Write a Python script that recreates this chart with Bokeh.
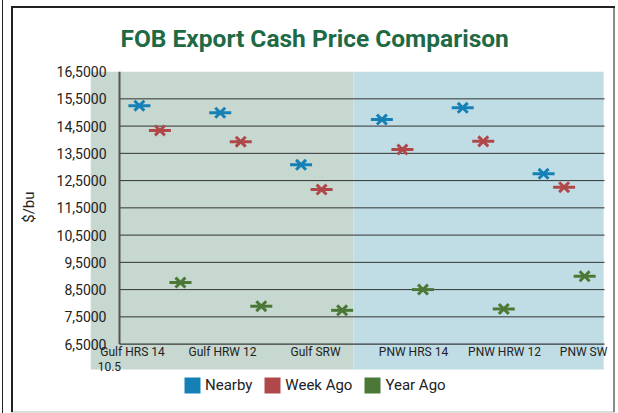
import numpy as np
from bokeh.plotting import figure
from bokeh.models import (FixedTicker, Legend, LegendItem, Range1d, ColumnDataSource)
from bokeh.core.properties import value
from bokeh.embed import file_html
from bokeh.resources import INLINE

# ---------------- data ----------------
categories = ["Gulf HRS 14", "Gulf HRW 12", "Gulf SRW", "PNW HRS 14", "PNW HRW 12", "PNW SW"]
nearby = [15.25, 14.99, 13.08, 14.74, 15.17, 12.75]
week_ago = [14.34, 13.93, 12.17, 13.64, 13.94, 12.26]
year_ago = [8.76, 7.89, 7.74, 8.50, 7.79, 8.99]
series_names = ["Nearby", "Week Ago", "Year Ago"]
y_ticks = [6.5, 7.5, 8.5, 9.5, 10.5, 11.5, 12.5, 13.5, 14.5, 15.5, 16.5]
y_tick_labels = ["6,5000", "7,5000", "8,5000", "9,5000", "10,5000", "11,5000",
                 "12,5000", "13,5000", "14,5000", "15,5000", "16,5000"]
extra_label = "10.5"
y_title = "$/bu"

# ---------------- styles ----------------
colors = ["#1580b5", "#b0484a", "#4b7836"]
offsets = [-0.254, 0.0, 0.254]
label_shift = [-0.339, -0.226, -0.075, 0.137, 0.263, 0.241]
FONT = "Roboto"
Y_MIN, Y_MAX = y_ticks[0], y_ticks[-1]
N = len(categories)

p = figure(width=618, height=413,
           x_range=Range1d(-0.3588, N + 0.074), y_range=Range1d(3.953, 16.504),
           x_axis_location=None,
           output_backend="svg", toolbar_location=None,
           min_border_left=90, min_border_right=8, min_border_top=71, min_border_bottom=0)
p.background_fill_color = None
p.border_fill_color = None
p.outline_line_color = None
p.styles = {
    "background": ("linear-gradient(#222,#222) 2px 0px / 1px 413px no-repeat, "
                   "linear-gradient(#222,#222) 11px 6px / 2px 406px no-repeat, "
                   "linear-gradient(#222,#222) 11px 6px / 604px 2px no-repeat, "
                   "linear-gradient(#8a8a8a,#8a8a8a) 613px 6px / 2px 406px no-repeat, "
                   "linear-gradient(#dcdcdc,#dcdcdc) 11px 411px / 604px 2px no-repeat, #ffffff"),
}

# background panels (Gulf / PNW)
panel_bottom = 5.568
p.quad(left=[-0.3588], right=[2.895], bottom=[panel_bottom], top=[Y_MAX + 0.004],
       fill_color="#c6d8d0", line_color=None)
p.quad(left=[2.895], right=[5.99], bottom=[panel_bottom], top=[Y_MAX + 0.004],
       fill_color="#c0dde6", line_color=None)

# grid lines
p.xgrid.visible = False
p.ygrid.visible = False
grid_y = y_ticks[1:-1]
p.segment(x0=[0] * len(grid_y), x1=[N] * len(grid_y), y0=grid_y, y1=grid_y,
          line_color="#333333", line_width=1)

# axis lines
p.segment(x0=[0], x1=[0], y0=[Y_MIN], y1=[Y_MAX], line_color="#555555", line_width=2)
p.segment(x0=[0], x1=[N], y0=[Y_MIN], y1=[Y_MIN], line_color="#111111", line_width=1)

# markers
x_base = np.arange(N) + 0.5
for vals, off, c in zip([nearby, week_ago, year_ago], offsets, colors):
    src = ColumnDataSource(dict(x=x_base + off, y=vals))
    p.scatter("x", "y", source=src, marker="x", size=14, line_width=3, line_color=c)
    p.scatter("x", "y", source=src, marker="dash", size=22, line_width=3, line_color=c)

# category labels
label_x = [x + s for x, s in zip(x_base, label_shift)]
p.text(x=label_x, y=[Y_MIN] * N, text=categories, y_offset=1,
       text_font=value(FONT), text_font_size="12px", text_color="#222222",
       text_align="center", text_baseline="top")
p.text(x=[-0.27], y=[Y_MIN], text=[extra_label], y_offset=18,
       text_font=value(FONT), text_font_size="12px", text_color="#222222",
       text_align="left", text_baseline="top")

# y axis
ya = p.yaxis[0]
ya.ticker = FixedTicker(ticks=y_ticks)
ya.major_label_overrides = {t: s for t, s in zip(y_ticks, y_tick_labels)}
ya.axis_line_color = None
ya.major_tick_line_color = None
ya.minor_tick_line_color = None
ya.major_tick_out = 0
ya.major_tick_in = 0
ya.major_label_standoff = -16
ya.major_label_text_font = FONT
ya.major_label_text_font_size = "14px"
ya.major_label_text_color = "#222222"
# non-breaking padding lifts the rotated title to the centre of the value axis
ya.axis_label = "\u00a0" * 19 + y_title
ya.axis_label_text_font = FONT
ya.axis_label_text_font_size = "15px"
ya.axis_label_text_font_style = "normal"
ya.axis_label_text_color = "#222222"
ya.axis_label_standoff = 16

# legend with square swatches (NaN proxies carry the swatch colour only)
items = []
for name, c in zip(series_names, colors):
    proxy = p.quad(left=[np.nan], right=[np.nan], top=[np.nan], bottom=[np.nan],
                   fill_color=c, line_color=None)
    items.append(LegendItem(label=name, renderers=[proxy]))
legend = Legend(items=items, orientation="horizontal", location=(92, 18),
                glyph_width=20, glyph_height=20, label_text_font=FONT,
                label_text_font_size="15px", label_text_color="#222222",
                spacing=10, label_standoff=3, padding=0, margin=0,
                border_line_color=None, background_fill_alpha=0)
p.add_layout(legend, "center")

# title
p.title.text = "FOB Export Cash Price Comparison"
p.title.text_font = FONT
p.title.text_font_style = "bold"
p.title.text_font_size = "24.5px"
p.title.text_color = "#1e6a45"
p.title.align = "left"
p.title.offset = 30
p.title.standoff = 37

open("out.html", "w").write(file_html(p, INLINE))
